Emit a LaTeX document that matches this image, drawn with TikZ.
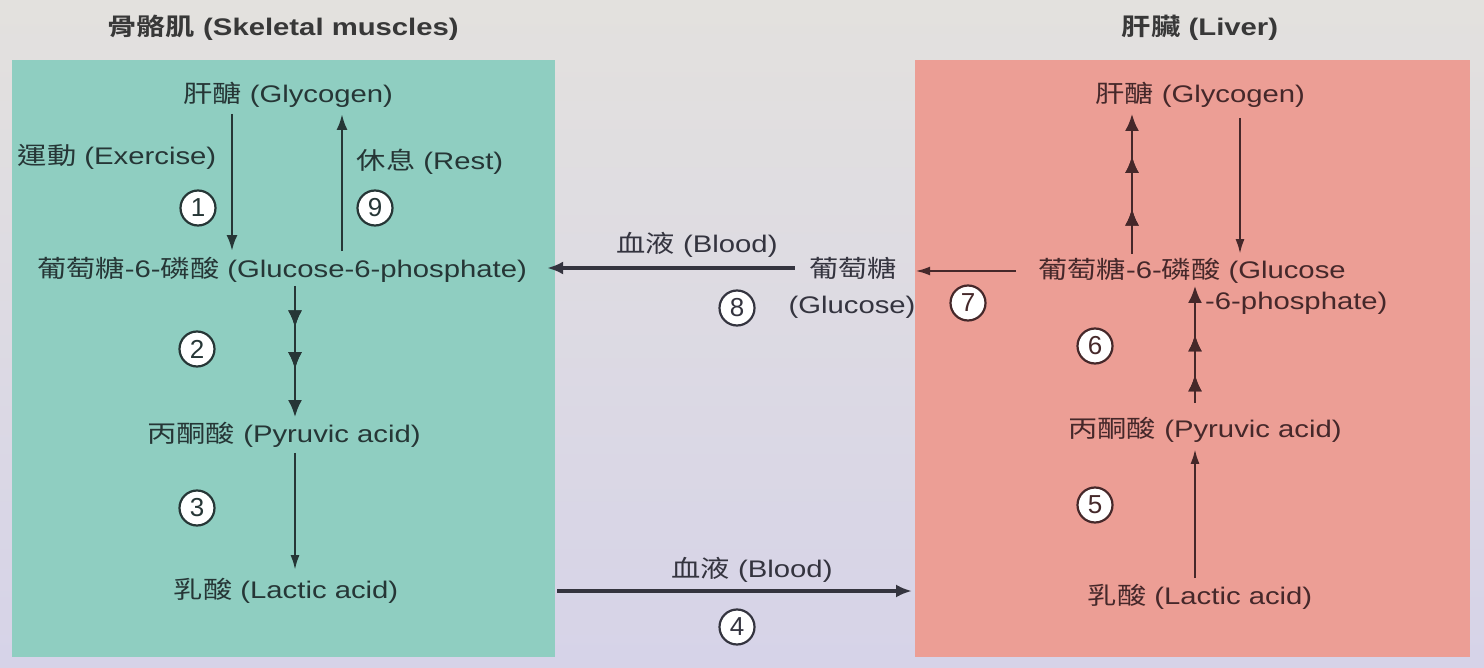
\documentclass[tikz,border=0pt]{standalone}
\usepackage{fontspec}
\setmainfont{Liberation Sans}[FakeStretch=1.22]
\newfontfamily\cjkf{Noto Sans CJK TC}[FakeStretch=1.22, BoldFont={Noto Sans CJK TC Bold}]
\newfontfamily\numf{Liberation Sans}
\usetikzlibrary{arrows.meta,decorations.markings}
\newcommand{\zh}[1]{{\cjkf #1}}
\definecolor{bgtop}{HTML}{E3E1DE}
\definecolor{bgbot}{HTML}{D6D3E8}
\definecolor{tealbox}{HTML}{8FCEC1}
\definecolor{salmonbox}{HTML}{EC9E95}
\definecolor{tealtxt}{HTML}{263636}
\definecolor{redtxt}{HTML}{45282A}
\definecolor{midtxt}{HTML}{34343F}
\tikzset{
  lbl/.style={inner sep=0pt, font=\fontsize{24}{28}\selectfont},
  ttl/.style={inner sep=0pt, font=\fontsize{24}{28}\selectfont\bfseries, text=black!78},
  num/.style={circle, draw, line width=2.2, fill=white, minimum size=35, inner sep=0pt,
              font=\numf\fontsize{26}{28}\selectfont},
  arr/.style={line width=2.8, -{Latex[length=16,width=11]}},
  arrs/.style={line width=2.5, -{Latex[length=15,width=9]}},
  arrmult/.style={line width=2.8, -{Latex[length=17,width=14]}},
  arrm/.style={line width=3.4, -{Latex[length=16,width=13]}},
  hd/.style={decoration={markings, mark=at position #1 with {\arrow{Latex[length=17,width=14]}}}, postaction={decorate}},
}
\begin{document}
\begin{tikzpicture}[x=1pt,y=-1pt]
\useasboundingbox (0,0) rectangle (1484,668);
\shade[top color=bgtop, bottom color=bgbot] (0,0) rectangle (1484,668);

\node[fill=tealbox, minimum width=543, minimum height=597, anchor=north west, inner sep=0pt] (boxL) at (12,60) {};
\node[fill=salmonbox, minimum width=555, minimum height=597, anchor=north west, inner sep=0pt] (boxR) at (915,60) {};

\node[ttl] (titL) at (283,28) {{\cjkf\bfseries 骨骼肌} (Skeletal muscles)};
\node[ttl] (titR) at (1200,28) {{\cjkf\bfseries 肝臟} (Liver)};

% Skeletal muscle
\begin{scope}[every node/.append style={text=tealtxt}]
\node[lbl] (glyL) at (288,95) {\zh{肝醣} (Glycogen)};
\node[lbl] (exL) at (117,157) {\zh{運動} (Exercise)};
\node[lbl] (restL) at (430,162) {\zh{休息} (Rest)};
\node[num, draw=tealtxt] (n1) at (198,208) {1};
\node[num, draw=tealtxt] (n9) at (375,208) {9};
\node[lbl] (g6pL) at (282,270) {\zh{葡萄糖}-6-\zh{磷酸} (Glucose-6-phosphate)};
\node[num, draw=tealtxt] (n2) at (197,349) {2};
\node[lbl] (pyrL) at (284,435) {\zh{丙酮酸} (Pyruvic acid)};
\node[num, draw=tealtxt] (n3) at (197,508) {3};
\node[lbl] (lacL) at (286,591) {\zh{乳酸} (Lactic acid)};

\draw[arr, shorten <=6, shorten >=6, tealtxt] ([xshift=-56]glyL.south) -- ([xshift=-56]glyL.south |- g6pL.north);
\draw[arr, shorten <=6, shorten >=6, tealtxt] ([xshift=60]g6pL.north) -- ([xshift=60]g6pL.north |- glyL.south);
\draw[arrmult, hd=0.32, hd=0.62, shorten <=3, shorten >=5, tealtxt] ([xshift=13]g6pL.south) -- ([xshift=13]g6pL.south |- pyrL.north);
\draw[arrs, shorten <=5, shorten >=8, tealtxt] ([xshift=11]pyrL.south) -- ([xshift=11]pyrL.south |- lacL.north);
\end{scope}

% Liver
\begin{scope}[every node/.append style={text=redtxt}]
\node[lbl] (glyR) at (1200,95) {\zh{肝醣} (Glycogen)};
\node[lbl, anchor=west] (g6pR) at (1038,271) {\zh{葡萄糖}-6-\zh{磷酸} (Glucose};
\node[lbl, anchor=west] (g6pR2) at (1205,303) {-6-phosphate)};
\node[num, draw=redtxt] (n6) at (1095,346) {6};
\node[lbl] (pyrR) at (1205,430) {\zh{丙酮酸} (Pyruvic acid)};
\node[num, draw=redtxt] (n5) at (1095,505) {5};
\node[lbl] (lacR) at (1200,597) {\zh{乳酸} (Lactic acid)};

\draw[arrmult, hd=0.33, hd=0.68, shorten <=4, shorten >=6, redtxt] ([xshift=-68]glyR.south |- g6pR.north) -- ([xshift=-68]glyR.south);
\draw[arrs, shorten <=10, shorten >=4, redtxt] ([xshift=40]glyR.south) -- ([xshift=40]glyR.south |- g6pR.north);
\draw[arrmult, hd=0.32, hd=0.62, shorten <=14, shorten >=2, redtxt] ([xshift=-10]pyrR.north) -- ([xshift=-10]pyrR.north |- g6pR.south);
\draw[arrs, shorten <=6, shorten >=6, redtxt] ([xshift=-5]lacR.north) -- ([xshift=-5]lacR.north |- pyrR.south);
\end{scope}

% Middle
\begin{scope}[every node/.append style={text=midtxt}]
\node[lbl] (gluc) at (853,268) {\zh{葡萄糖}};
\node[lbl] (glucE) at (852,307) {(Glucose)};
\node[lbl] (bl1) at (697,245) {\zh{血液} (Blood)};
\node[num, draw=midtxt] (n8) at (737,308) {8};
\node[num, draw=redtxt, text=redtxt] (n7) at (968,303) {7};
\node[lbl] (bl2) at (752,570) {\zh{血液} (Blood)};
\node[num, draw=midtxt] (n4) at (737,627) {4};

\draw[arrm, shorten <=14, shorten >=20, midtxt] (gluc.west) -- (gluc.west -| g6pL.east);
\draw[arrs, shorten <=22, shorten >=18, redtxt] (g6pR.west) -- (g6pR.west -| gluc.east);
\draw[arrm, shorten <=2, shorten >=3, midtxt] (boxL.east |- lacL) -- (boxR.west |- lacL);
\end{scope}
\end{tikzpicture}
\end{document}
